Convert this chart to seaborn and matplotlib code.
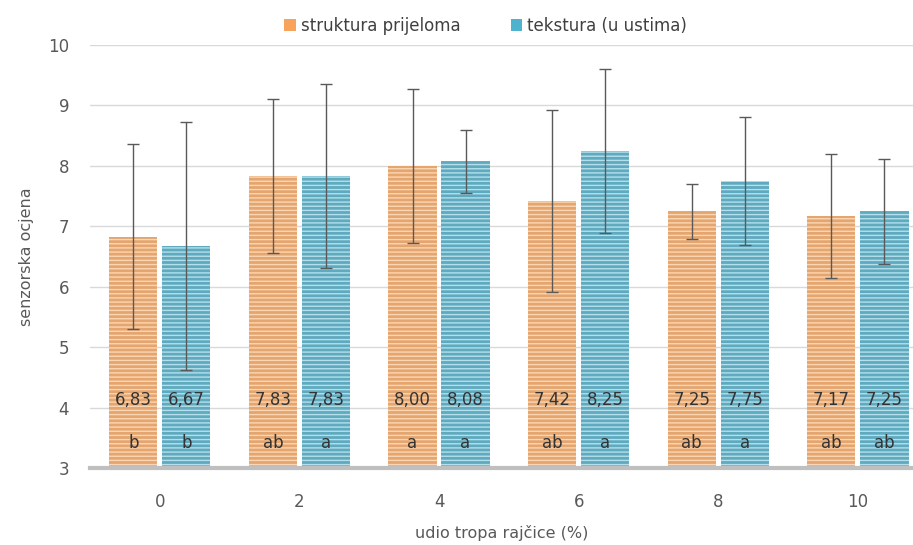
import matplotlib
matplotlib.use("Agg")
import matplotlib.pyplot as plt
import seaborn as sns
import pandas as pd
import numpy as np

# data
udio = ["0", "2", "4", "6", "8", "10"]
serije = ["struktura prijeloma", "tekstura (u ustima)"]
struktura = [6.83, 7.83, 8.00, 7.42, 7.25, 7.17]
tekstura = [6.67, 7.83, 8.08, 8.25, 7.75, 7.25]
struktura_sd = [1.53, 1.27, 1.28, 1.51, 0.45, 1.03]
tekstura_sd = [2.05, 1.52, 0.52, 1.36, 1.06, 0.87]
struktura_slova = ["b", "ab", "a", "ab", "ab", "ab"]
tekstura_slova = ["b", "a", "a", "a", "a", "ab"]

df = pd.DataFrame({
    "udio": udio * 2,
    "serija": [serije[0]] * len(udio) + [serije[1]] * len(udio),
    "ocjena": struktura + tekstura,
})
sd = struktura_sd + tekstura_sd
slova = struktura_slova + tekstura_slova

sns.set_theme(style="white")
plt.rcParams["font.family"] = ["DejaVu Sans"]
plt.rcParams["hatch.linewidth"] = 1.0

boje = ["#F7A35C", "#4FB3CF"]
pruge = ["#FCD6B3", "#B3E0EC"]
tekst_boja = "#333333"

fig = plt.figure(figsize=(9.13, 5.45), dpi=100)
ax = fig.add_axes([0.0986, 0.1407, 0.9014, 0.7767])

sns.barplot(data=df, x="udio", y="ocjena", hue="serija", order=udio,
            hue_order=serije, palette=boje, width=0.76, gap=0.09,
            errorbar=None, linewidth=0, edgecolor="white", ax=ax, legend=True)

bars = [p for p in ax.patches if p.get_height() > 0][:len(df)]
n = len(udio)
for i, p in enumerate(bars):
    p.set_hatch("----")
    p.set_edgecolor(pruge[i // n])
    p.set_linewidth(0)

for p, s, v, sl in zip(bars, sd, df["ocjena"], slova):
    xc = p.get_x() + p.get_width() / 2
    ax.errorbar(xc, v, yerr=s, fmt="none", ecolor="#595959", elinewidth=1.0,
                capsize=4.5, capthick=1.0, zorder=5)
    ax.text(xc, 4.13, f"{v:.2f}".replace(".", ","), ha="center", va="center",
            fontsize=12, color=tekst_boja, zorder=6)
    ax.text(xc, 3.42, sl, ha="center", va="center", fontsize=12,
            color=tekst_boja, zorder=6)

ax.set_ylim(3, 10)
ax.set_xlim(-0.5, 5.395)
ax.set_yticks(range(3, 11))
ax.yaxis.grid(True, color="#d9d9d9", linewidth=1)
ax.set_axisbelow(True)
for s in ["top", "right", "left"]:
    ax.spines[s].set_visible(False)
ax.spines["bottom"].set_color("#bfbfbf")
ax.spines["bottom"].set_linewidth(3)
ax.tick_params(axis="both", length=0, labelsize=12, colors="#595959")
ax.tick_params(axis="y", pad=15)
ax.tick_params(axis="x", pad=18)

ax.set_xlabel("udio tropa rajčice (%)", fontsize=11.5, color="#595959", labelpad=10)
ax.set_ylabel("senzorska ocjena", fontsize=11.5, color="#595959", labelpad=10)

handles, labels = ax.get_legend_handles_labels()
ax.legend_.remove()
for h, c in zip(handles, boje):
    h.set_hatch(None)
    h.set_facecolor(c)
fig.legend(handles, labels, loc="center", bbox_to_anchor=(0.532, 0.952), ncol=2,
           frameon=False, fontsize=12, handlelength=0.7, handleheight=0.7,
           handletextpad=0.3, columnspacing=3.0, labelcolor="#404040")

fig.savefig("out.png", dpi=100)
